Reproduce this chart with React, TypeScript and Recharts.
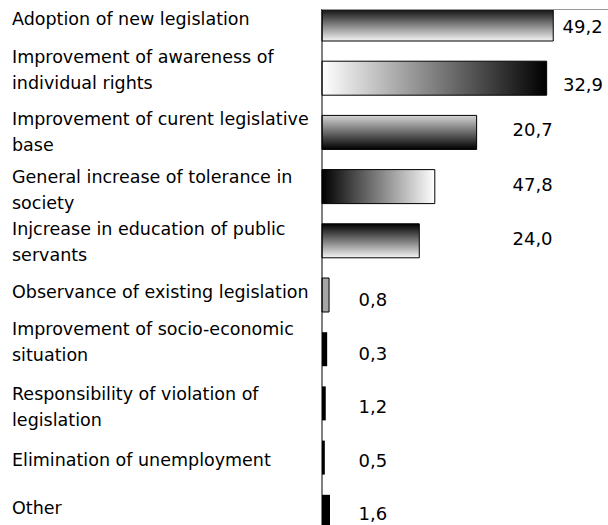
import React from 'react';
import { BarChart, Bar, XAxis, YAxis, Cell, LabelList } from 'recharts';

// ---- data ----
const categories = [
  'Adoption of new legislation',
  'Improvement of awareness of\nindividual rights',
  'Improvement of curent legislative\nbase',
  'General increase of tolerance in\nsociety',
  'Injcrease in education of public\nservants',
  'Observance of existing legislation',
  'Improvement of socio-economic\nsituation',
  'Responsibility of violation of\nlegislation',
  'Elimination of unemployment',
  'Other',
];
// bar lengths as drawn in the picture
const barLengths = [49.2, 47.8, 32.9, 24.0, 20.7, 1.5, 1.1, 0.8, 0.6, 1.7];
// value labels as printed next to the bars
const labelValues = [49.2, 32.9, 20.7, 47.8, 24.0, 0.8, 0.3, 1.2, 0.5, 1.6];

// ---- styles ----
const fills = [
  'url(#gTopDark)',
  'url(#gRightDark)',
  'url(#gBottomDark)',
  'url(#gLeftDark)',
  'url(#gTopDark)',
  '#a6a6a6',
  '#000000',
  '#000000',
  '#000000',
  '#000000',
];
const labelDx = [9.3, 16.3, 35.9, 77.7, 93.2, 29.5, 31.3, 32.7, 33.7, 28.5];
const labelDy = [2.6, 6.7, -3.2, -1.7, -1.9, 4.6, 4.7, 3.5, 3.3, 2.1];
const tickDy = [0.9, -15.3, -7.5, -3.7, -5.9, 2.9, -14.3, -3.5, 8.3, 2.1];

const FONT = '"DejaVu Sans", sans-serif';

const data = categories.map((name, i) => ({
  name,
  length: barLengths[i],
  label: labelValues[i],
}));

const CategoryTick = (props: any) => {
  const { y, payload, index } = props;
  const lines = String(payload.value).split('\n');
  const baseY = y + tickDy[index];
  return (
    <text x={12} y={baseY} fontFamily={FONT} fontSize={17.5} fill="#000" textAnchor="start">
      {lines.map((l, i) => (
        <tspan key={i} x={12} dy={i === 0 ? 0 : 26}>
          {l}
        </tspan>
      ))}
    </text>
  );
};

const ValueLabel = (props: any) => {
  const { x, y, width, height, index } = props;
  const v = labelValues[index];
  const text = v.toFixed(1).replace('.', ',');
  return (
    <text
      x={x + width + labelDx[index]}
      y={y + height / 2 + labelDy[index] + 6.5}
      fontFamily={FONT}
      fontSize={18}
      fill="#000"
      textAnchor="start"
    >
      {text}
    </text>
  );
};

export default function App() {
  return (
    <div
      style={{
        position: 'absolute',
        left: 0,
        top: 0,
        width: 608,
        height: 525,
        overflow: 'hidden',
        background: '#fff',
      }}
    >
      <div
        style={{
          position: 'absolute',
          left: 0,
          top: 9,
          width: 608,
          height: 516,
          overflow: 'hidden',
        }}
      >
        <div style={{ position: 'absolute', left: 0, top: -12 }}>
          <BarChart
            width={608}
            height={542}
            data={data}
            layout="vertical"
            margin={{ top: 0, right: 4, bottom: 0, left: 0 }}
          >
            <defs>
              <linearGradient id="gTopDark" x1="0" y1="0" x2="0" y2="1">
                <stop offset="0%" stopColor="#000000" />
                <stop offset="100%" stopColor="#f4f4f4" />
              </linearGradient>
              <linearGradient id="gBottomDark" x1="0" y1="0" x2="0" y2="1">
                <stop offset="0%" stopColor="#d4d4d4" />
                <stop offset="100%" stopColor="#000000" />
              </linearGradient>
              <linearGradient id="gRightDark" x1="0" y1="0" x2="1" y2="0">
                <stop offset="0%" stopColor="#ffffff" />
                <stop offset="100%" stopColor="#000000" />
              </linearGradient>
              <linearGradient id="gLeftDark" x1="0" y1="0" x2="1" y2="0">
                <stop offset="0%" stopColor="#000000" />
                <stop offset="100%" stopColor="#ffffff" />
              </linearGradient>
            </defs>
            <XAxis type="number" domain={[0, 60]} hide />
            <YAxis
              type="category"
              dataKey="name"
              width={322}
              axisLine={{ stroke: '#000', strokeWidth: 1 }}
              tickLine={false}
              tick={<CategoryTick />}
              interval={0}
            />
            <Bar dataKey="length" barSize={34} isAnimationActive={false}>
              {data.map((d, i) => (
                <Cell
                  key={i}
                  fill={fills[i]}
                  stroke={i < 6 ? '#000' : 'none'}
                  strokeWidth={1}
                />
              ))}
              <LabelList dataKey="label" content={<ValueLabel />} />
            </Bar>
          </BarChart>
        </div>
      </div>
      <div
        style={{
          position: 'absolute',
          left: 322,
          top: 9,
          width: 286,
          height: 1,
          background: '#9a9a9a',
        }}
      />
    </div>
  );
}
